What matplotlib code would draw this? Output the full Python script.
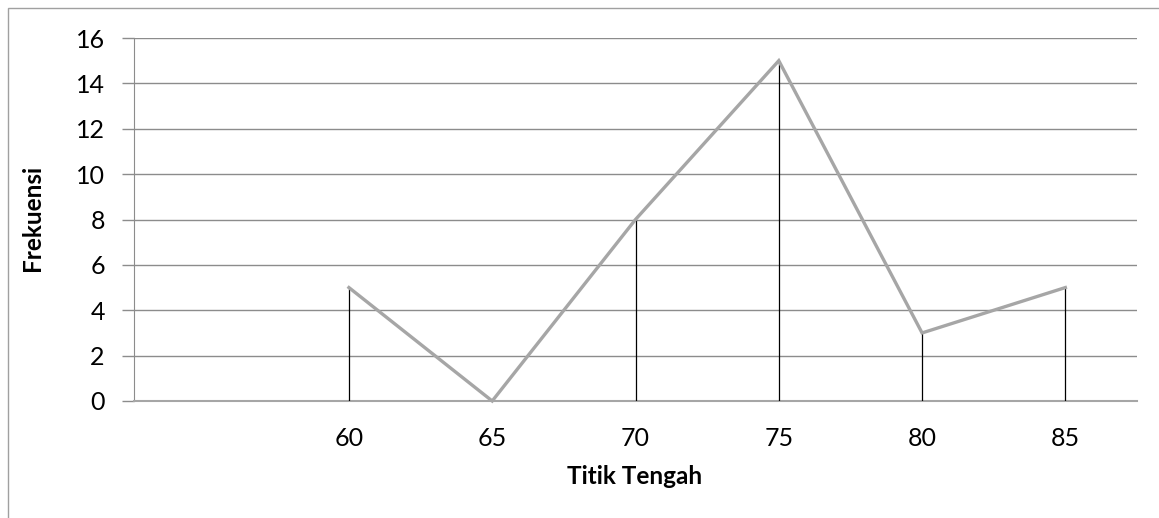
import numpy as np
import matplotlib
matplotlib.use("Agg")
import matplotlib.pyplot as plt
from matplotlib.patches import Rectangle

plt.rcParams['font.family'] = ['Lato', 'DejaVu Sans']

# class midpoints (first category left empty) and their frequencies
midpoints = ['', '60', '65', '70', '75', '80', '85']
frekuensi = [np.nan, 5, 0, 8, 15, 3, 5]
y_ticks = [0, 2, 4, 6, 8, 10, 12, 14, 16]

W, H = 1159, 518
fig = plt.figure(figsize=(W / 100, H / 100), dpi=100)

# outer chart frame, runs off the right and bottom edges
fig.patches.append(Rectangle((8 / W, -0.1), 1.2, 1 - 8 / H + 0.1,
                             transform=fig.transFigure, fill=False,
                             edgecolor='#a0a0a0', linewidth=1.0))

left, right, top, bottom = 134, 1137, 38, 401
ax = fig.add_axes([left / W, 1 - bottom / H, (right - left) / W, (bottom - top) / H])

x = np.arange(len(midpoints))
ax.set_xlim(-0.5, len(midpoints) - 0.5)
ax.set_ylim(0, 16)

ax.set_yticks(y_ticks)
ax.yaxis.grid(True, color='#8c8c8c', linewidth=1.0)
ax.set_axisbelow(True)

# drop lines under each point
vals = np.array(frekuensi, dtype=float)
ok = ~np.isnan(vals)
ax.vlines(x[ok], 0, vals[ok], color='black', linewidth=0.9, zorder=3)
ax.plot(x, vals, color='#a6a6a6', linewidth=2.4, solid_joinstyle='miter', zorder=4,
        clip_on=False)

ax.set_xticks(x)
ax.set_xticklabels(midpoints)
ax.tick_params(axis='x', length=0, pad=19, labelsize=18)
ax.tick_params(axis='y', length=9, width=1, color='#8c8c8c', pad=12, labelsize=18)

for s in ['top', 'right']:
    ax.spines[s].set_visible(False)
ax.spines['left'].set_color('#8c8c8c')
ax.spines['bottom'].set_color('#a6a6a6')
ax.spines['bottom'].set_linewidth(1.5)

fig.text(635 / W, 1 - 477 / H, 'Titik Tengah', ha='center', va='center',
         fontsize=17.5, fontweight='bold')
fig.text(32 / W, 1 - 218 / H, 'Frekuensi', ha='center', va='center',
         rotation=90, fontsize=17.5, fontweight='bold')

fig.savefig('out.png', dpi=100)
